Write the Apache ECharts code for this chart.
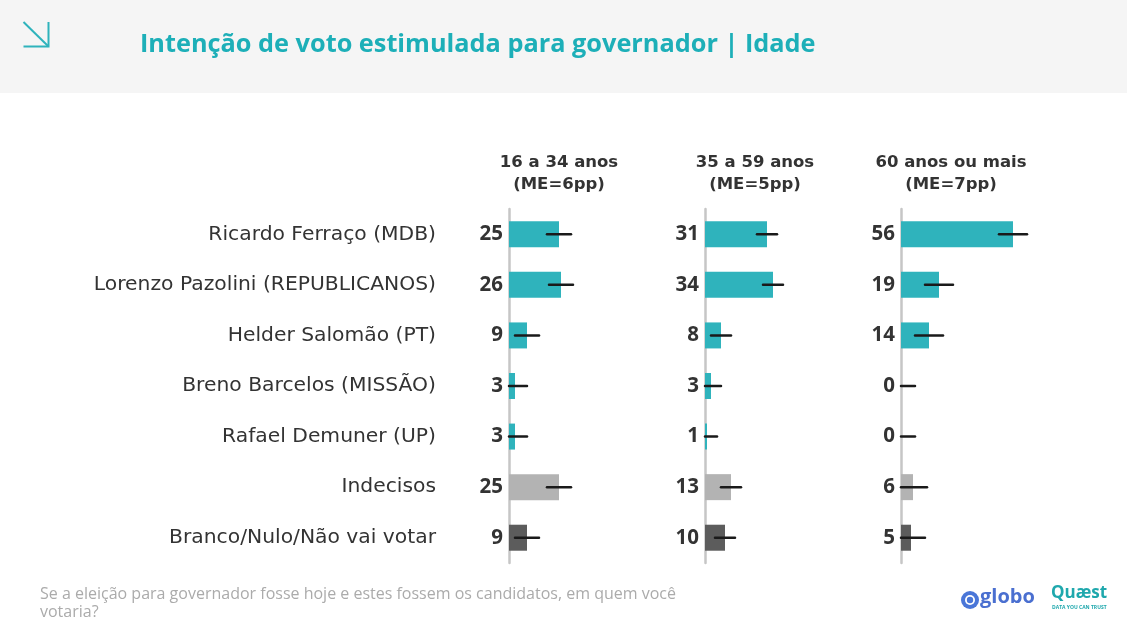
<!DOCTYPE html>
<html>
<head>
<meta charset="utf-8">
<script src="https://cdn.jsdelivr.net/npm/echarts@6/dist/echarts.min.js"></script>
<style>
html,body{margin:0;padding:0;background:#fff;}
#c{width:1127px;height:632px;}
</style>
</head>
<body>
<div id="c"></div>
<script>
const categories = ['Ricardo Ferraço (MDB)','Lorenzo Pazolini (REPUBLICANOS)','Helder Salomão (PT)','Breno Barcelos (MISSÃO)','Rafael Demuner (UP)','Indecisos','Branco/Nulo/Não vai votar'];
const groupNames = ['16 a 34 anos','35 a 59 anos','60 anos ou mais'];
const marginsOfError = [6, 5, 7];
const values16to34 = [25, 26, 9, 3, 3, 25, 9];
const values35to59 = [31, 34, 8, 3, 1, 13, 10];
const values60plus = [56, 19, 14, 0, 0, 6, 5];
const barColors = ['#2fb3bc','#2fb3bc','#2fb3bc','#2fb3bc','#2fb3bc','#b3b3b3','#5c5c5c'];

const groups = [values16to34, values35to59, values60plus];
const panelLeft = [509, 705, 901];
const axisMax = 60;
const panelWidth = 120;
const gridTop = 209, gridHeight = 354;
const fontMain = '"Open Sans", "Noto Sans", sans-serif';
const fontWide = '"DejaVu Sans", "Open Sans", sans-serif';

const grids = [], xAxes = [], yAxes = [], series = [], titles = [];
titles.push({
  text: 'Intenção de voto estimulada para governador | Idade',
  left: 135, top: 27,
  textStyle: {fontFamily: fontMain, fontWeight: 'bold', fontSize: 25.3, color: '#1dafb8'}
});
groups.forEach((vals, g) => {
  grids.push({left: panelLeft[g], top: gridTop, width: panelWidth, height: gridHeight, containLabel: false});
  xAxes.push({type: 'value', gridIndex: g, min: 0, max: axisMax, show: false});
  yAxes.push({
    type: 'category', gridIndex: g, data: categories, inverse: true,
    axisLine: {show: true, lineStyle: {color: '#c6c6c6', width: 2.5}},
    axisTick: {show: false},
    axisLabel: {show: g === 0, margin: 73, fontFamily: fontWide, fontSize: 20.3, color: '#333'}
  });
  titles.push({
    text: groupNames[g] + '\n(ME=' + marginsOfError[g] + 'pp)',
    left: panelLeft[g] + 45, top: 147, textAlign: 'center',
    textStyle: {fontFamily: fontWide, fontWeight: 'bold', fontSize: 16.5, lineHeight: 22, color: '#333', align: 'center'}
  });
  series.push({
    type: 'bar', xAxisIndex: g, yAxisIndex: g, barWidth: 26, z: 2,
    data: vals.map((v, i) => ({value: v, itemStyle: {color: barColors[i]}})),
    label: {show: true, position: 'left', distance: 6, fontFamily: fontMain, fontWeight: 'bold', fontSize: 20.5, color: '#333'}
  });
  const me = marginsOfError[g];
  series.push({
    type: 'custom', xAxisIndex: g, yAxisIndex: g, z: 3,
    encode: {x: [1, 2], y: 0},
    data: vals.map((v, i) => [i, Math.max(0, v - me), v + me]),
    renderItem: (params, api) => {
      const p1 = api.coord([api.value(1), api.value(0)]);
      const p2 = api.coord([api.value(2), api.value(0)]);
      return {type: 'line', shape: {x1: p1[0], y1: p1[1], x2: p2[0], y2: p2[1]},
        style: {stroke: '#1a1a1a', lineWidth: 2.5, lineCap: 'round'}};
    }
  });
});

const chart = echarts.init(document.getElementById('c'));
chart.setOption({
  animation: false,
  title: titles,
  grid: grids, xAxis: xAxes, yAxis: yAxes, series: series,
  graphic: [
    {type: 'rect', z: -10, shape: {x: 0, y: 0, width: 1127, height: 93}, style: {fill: '#f5f5f5'}},
    {type: 'polyline', shape: {points: [[23.5, 22], [48.5, 46.5]]}, style: {stroke: '#2fb3bc', lineWidth: 2, fill: null}},
    {type: 'polyline', shape: {points: [[48.5, 22], [48.5, 46.5], [23.5, 46.5]]}, style: {stroke: '#2fb3bc', lineWidth: 2, fill: null}},
    {type: 'text', left: 40, top: 585, style: {text: 'Se a eleição para governador fosse hoje e estes fossem os candidatos, em quem você\nvotaria?', font: '16px "Open Sans", sans-serif', fill: '#ababab', lineHeight: 18}},
    {type: 'circle', shape: {cx: 970, cy: 600, r: 9}, style: {fill: '#4a76d8'}},
    {type: 'circle', shape: {cx: 970, cy: 600, r: 5}, style: {fill: '#ffffff'}},
    {type: 'circle', shape: {cx: 970, cy: 600, r: 3.2}, style: {fill: '#4a76d8'}},
    {type: 'text', left: 980, top: 587, style: {text: 'globo', font: 'bold 20px "Open Sans", sans-serif', fill: '#4a6fd0'}},
    {type: 'text', left: 1051, top: 585, style: {text: 'Quæst', font: 'bold 17px "Open Sans", sans-serif', fill: '#1fa8ad'}},
    {type: 'text', left: 1052, top: 605, style: {text: 'DATA YOU CAN TRUST', font: 'bold 5px "Open Sans", sans-serif', fill: '#1fa8ad'}}
  ]
});
</script>
</body>
</html>
